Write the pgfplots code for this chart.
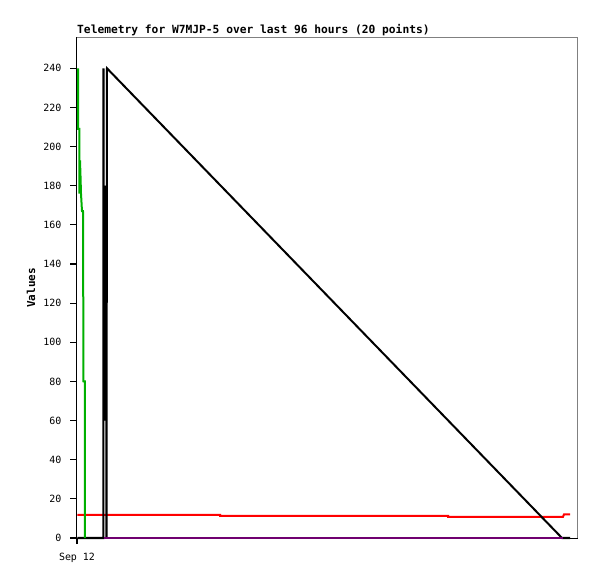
\documentclass[border=0pt]{standalone}
\usepackage{fontspec}
\setmainfont{DejaVu Sans Mono}
\usepackage{pgfplots}
\pgfplotsset{compat=1.18}
\definecolor{gpgreen}{RGB}{0,176,0}
\definecolor{gppurple}{RGB}{112,0,112}
\begin{document}
\begin{tikzpicture}
\useasboundingbox (-77bp,-41bp) rectangle (520bp,538bp);
\begin{axis}[
  at={(0,0)}, anchor=south west,
  scale only axis, width=500.5bp, height=500bp,
  xmin=0, xmax=500.5, ymin=0, ymax=255.5,
  clip=false,
  axis line style={black, line width=1bp},
  xtick={0}, xticklabels={Sep 12},
  ytick={0,20,...,240},
  xtick pos=left, ytick pos=left,
  tick align=outside,
  major tick length=6bp,
  major tick style={black, line width=1.2bp},
  yticklabel style={xshift=-6bp},
  xticklabel style={yshift=-6bp},
  ticklabel style={font=\fontsize{10}{11}\selectfont},
  /pgf/number format/assume math mode=true,
  title={Telemetry for W7MJP-5 over last 96 hours (20 points)},
  title style={at={(axis description cs:0,1)}, anchor=base west, yshift=-1bp, inner sep=0pt, font=\bfseries\fontsize{11.3}{12}\selectfont},
  ylabel={Values},
  ylabel style={at={(axis description cs:0,0.5)}, anchor=center, yshift=46bp, font=\bfseries\fontsize{11}{12}\selectfont},
]
\addplot[red, line width=2bp] coordinates {(0.5,11.8) (143,11.8) (143,11.3) (371,11.3) (371,10.8) (486,10.8) (487,12.1) (493,12.1)};
\addplot[black, line width=2bp] coordinates {(0.5,0) (26.5,0) (26.5,240) (27,60) (27.5,180) (28,60) (28.5,180) (29,60) (29.5,180) (29.5,0) (30,240) (485,0) (493,0)};
\addplot[gpgreen, line width=2bp] coordinates {(1,240) (1.2,209) (2.5,209) (2.5,176) (3,193) (3.5,185) (4,176) (5,167) (6,167) (6.5,80) (8,80) (8,0)};
\addplot[gppurple, line width=2bp] coordinates {(27,0) (486,0)};
\draw[gray, line width=1bp] (rel axis cs:0,1) -- (rel axis cs:1,1) -- (rel axis cs:1,0);
\end{axis}
\foreach \v in {0,20,...,240} {\draw[black, line width=1.2bp] (-6.5bp,{\v*1.95695bp}) -- (0.5bp,{\v*1.95695bp});}
\draw[black, line width=1.2bp] (0,0.5bp) -- (0,-6bp);
\end{tikzpicture}
\end{document}
